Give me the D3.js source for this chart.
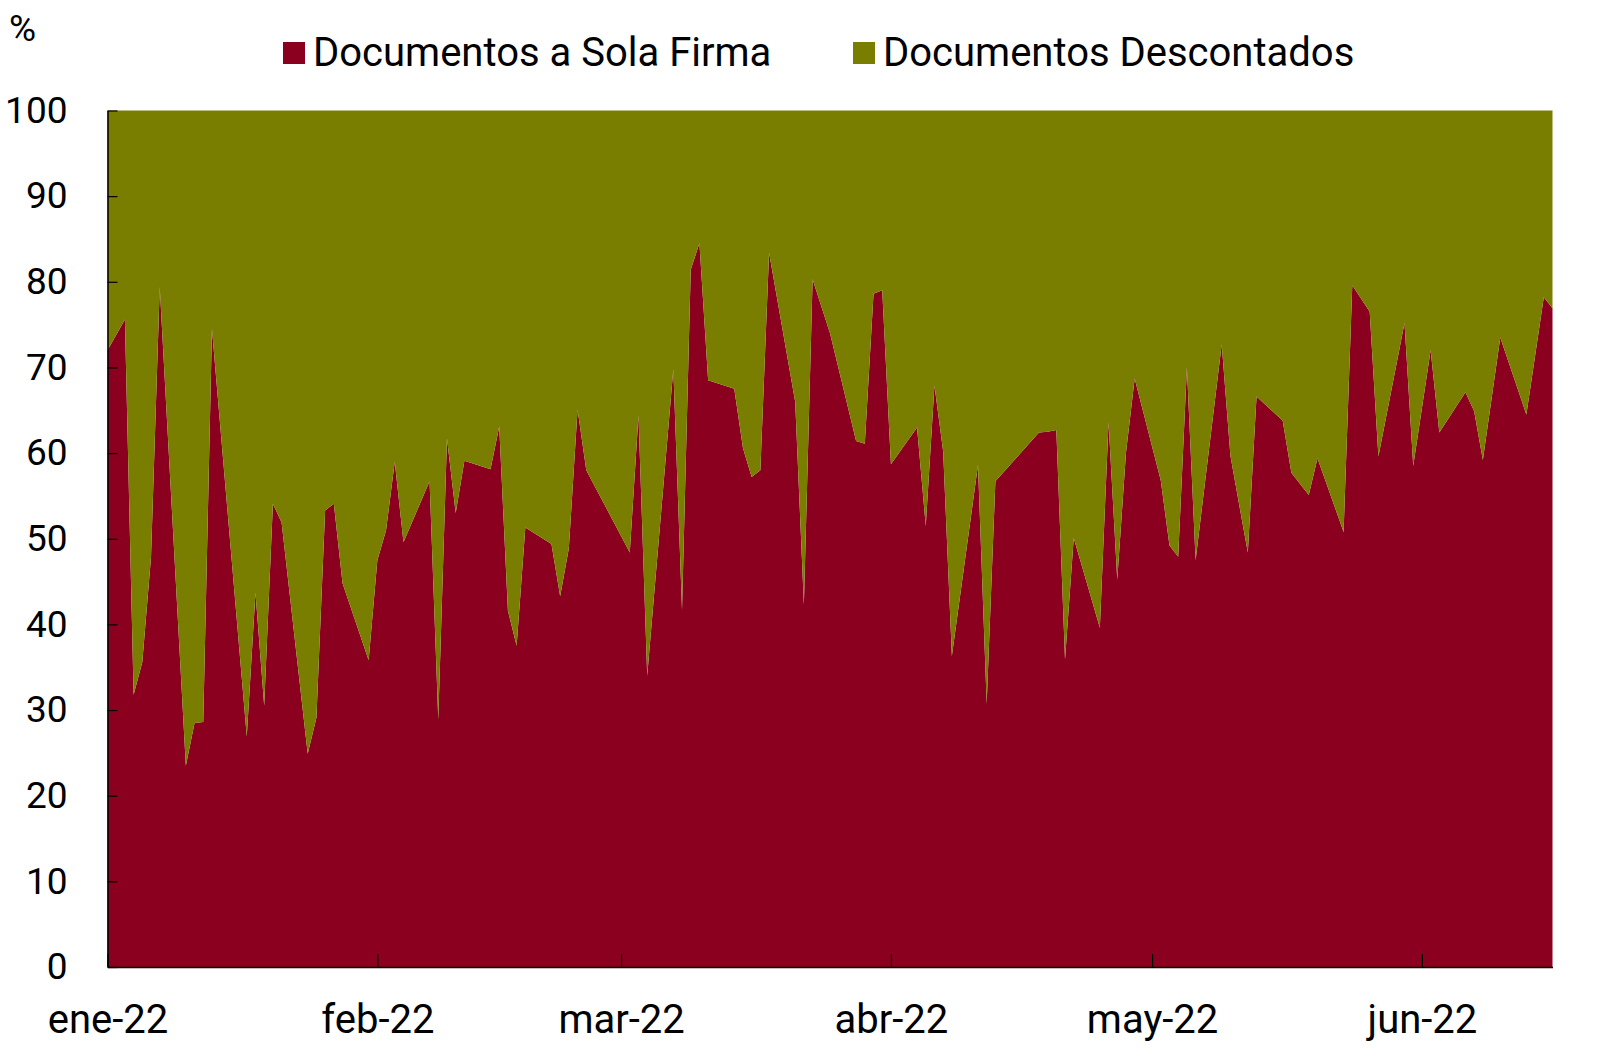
<!DOCTYPE html>
<html>
<head>
<meta charset="utf-8">
<script src="https://cdn.jsdelivr.net/npm/d3@7"></script>
<style>
  html, body { margin: 0; padding: 0; background: #ffffff; }
  svg text { font-family: Roboto, "Noto Sans", sans-serif; fill: #000; }
</style>
</head>
<body>
<svg id="chart" width="1620" height="1056"></svg>
<script>
// ---- Data ----
const dates = [
  "2022-01-01","2022-01-03","2022-01-04","2022-01-05","2022-01-06","2022-01-07",
  "2022-01-10","2022-01-11","2022-01-12","2022-01-13",
  "2022-01-17","2022-01-18","2022-01-19","2022-01-20","2022-01-21",
  "2022-01-24","2022-01-25","2022-01-26","2022-01-27","2022-01-28",
  "2022-01-31","2022-02-01","2022-02-02","2022-02-03","2022-02-04",
  "2022-02-07","2022-02-08","2022-02-09","2022-02-10","2022-02-11",
  "2022-02-14","2022-02-15","2022-02-16","2022-02-17","2022-02-18",
  "2022-02-21","2022-02-22","2022-02-23","2022-02-24","2022-02-25",
  "2022-03-02","2022-03-03","2022-03-04",
  "2022-03-07","2022-03-08","2022-03-09","2022-03-10","2022-03-11",
  "2022-03-14","2022-03-15","2022-03-16","2022-03-17","2022-03-18",
  "2022-03-21","2022-03-22","2022-03-23","2022-03-25",
  "2022-03-28","2022-03-29","2022-03-30","2022-03-31","2022-04-01",
  "2022-04-04","2022-04-05","2022-04-06","2022-04-07","2022-04-08",
  "2022-04-11","2022-04-12","2022-04-13",
  "2022-04-18","2022-04-19","2022-04-20","2022-04-21","2022-04-22",
  "2022-04-25","2022-04-26","2022-04-27","2022-04-28","2022-04-29",
  "2022-05-02","2022-05-03","2022-05-04","2022-05-05","2022-05-06",
  "2022-05-09","2022-05-10","2022-05-11","2022-05-12","2022-05-13",
  "2022-05-16","2022-05-17","2022-05-19","2022-05-20",
  "2022-05-23","2022-05-24","2022-05-26","2022-05-27",
  "2022-05-30","2022-05-31","2022-06-02","2022-06-03",
  "2022-06-06","2022-06-07","2022-06-08","2022-06-10",
  "2022-06-13","2022-06-15","2022-06-16"
];
const solaFirma = [
  72.0,75.6,31.8,35.6,47.9,79.4,
  23.5,28.5,28.6,74.5,
  26.9,43.7,30.5,54.1,51.9,
  24.9,29.1,53.3,54.1,44.8,
  35.8,47.5,51.0,59.0,49.6,
  56.7,28.9,61.7,53.0,59.1,
  58.1,63.1,41.6,37.5,51.3,
  49.4,43.3,48.9,65.1,58.0,
  48.4,64.4,34.0,
  69.8,41.7,81.4,84.5,68.5,
  67.5,60.6,57.2,58.0,83.4,
  66.0,42.3,80.3,74.0,
  61.4,61.1,78.6,79.0,58.7,
  63.0,51.5,67.9,60.2,36.3,
  58.6,30.7,56.7,
  62.4,62.5,62.7,35.9,50.1,
  39.6,63.6,45.2,60.0,68.7,
  56.8,49.2,47.9,70.0,47.5,
  72.7,59.7,54.0,48.4,66.6,
  63.8,57.7,55.1,59.4,
  50.8,79.6,76.5,59.6,
  75.2,58.5,72.0,62.4,
  67.1,64.9,59.2,73.5,
  64.5,78.2,76.9
];
const descontados = solaFirma.map(v => 100 - v);
const seriesNames = ["Documentos a Sola Firma", "Documentos Descontados"];
const seriesColors = ["#8B001E", "#7A7E00"];
const yTicks = [0, 10, 20, 30, 40, 50, 60, 70, 80, 90, 100];
const xTickDates = ["2022-01-01","2022-02-01","2022-03-01","2022-04-01","2022-05-01","2022-06-01"];
const xTickLabels = ["ene-22","feb-22","mar-22","abr-22","may-22","jun-22"];
const xDomain = ["2022-01-01","2022-06-16"];
const yUnit = "%";

// ---- Build ----
const parse = d3.utcParse("%Y-%m-%d");
const rows = dates.map((d, i) => ({ date: parse(d), a: solaFirma[i], b: descontados[i] }));

const svg = d3.select("#chart");
const M = { left: 107.5, right: 1552.5, top: 110.5, bottom: 967 };
const FS_Y = 37;
const FS = 40;

const x = d3.scaleUtc().domain(xDomain.map(parse)).range([M.left, M.right]);
const y = d3.scaleLinear().domain([0, 100]).range([M.bottom, M.top]);

const stacked = d3.stack().keys(["a", "b"])(rows);

const area = d3.area()
  .x(d => x(d.data.date))
  .y0(d => y(d[0]))
  .y1(d => y(d[1]));

svg.append("g").selectAll("path")
  .data(stacked)
  .join("path")
  .attr("d", area)
  .attr("fill", (d, i) => seriesColors[i]);

// Y axis
const yAxis = d3.axisLeft(y)
  .tickValues(yTicks)
  .tickSizeInner(-10)
  .tickSizeOuter(0)
  .tickPadding(40)
  .tickFormat(d3.format("d"));
const gy = svg.append("g").attr("transform", `translate(${M.left},0)`).call(yAxis);
gy.select(".domain").attr("stroke", "#000").attr("stroke-width", 1.5);
gy.selectAll(".tick line").attr("stroke", "#000").attr("stroke-width", 1.2);
gy.selectAll(".tick text").attr("font-size", FS_Y).attr("font-family", "Roboto").attr("fill", "#000");

// X axis
const xAxis = d3.axisBottom(x)
  .tickValues(xTickDates.map(parse))
  .tickSizeInner(-13)
  .tickSizeOuter(0)
  .tickPadding(38)
  .tickFormat((d, i) => xTickLabels[i]);
const gx = svg.append("g").attr("transform", `translate(0,${M.bottom})`).call(xAxis);
gx.select(".domain").attr("stroke", "#000").attr("stroke-width", 1.5);
gx.selectAll(".tick line").attr("stroke", "#000").attr("stroke-width", 1.2);
gx.selectAll(".tick text").attr("font-size", FS).attr("font-family", "Roboto").attr("fill", "#000");

// Unit label
svg.append("text").attr("x", 9).attr("y", 41).attr("font-size", 37).text(yUnit);

// Legend
const legendX = [283, 853];
const lg = svg.append("g");
seriesNames.forEach((name, i) => {
  lg.append("rect").attr("x", legendX[i]).attr("y", 42).attr("width", 22).attr("height", 22)
    .attr("fill", seriesColors[i]);
  lg.append("text").attr("x", legendX[i] + 30).attr("y", 66).attr("font-size", FS).text(name);
});
</script>
</body>
</html>
